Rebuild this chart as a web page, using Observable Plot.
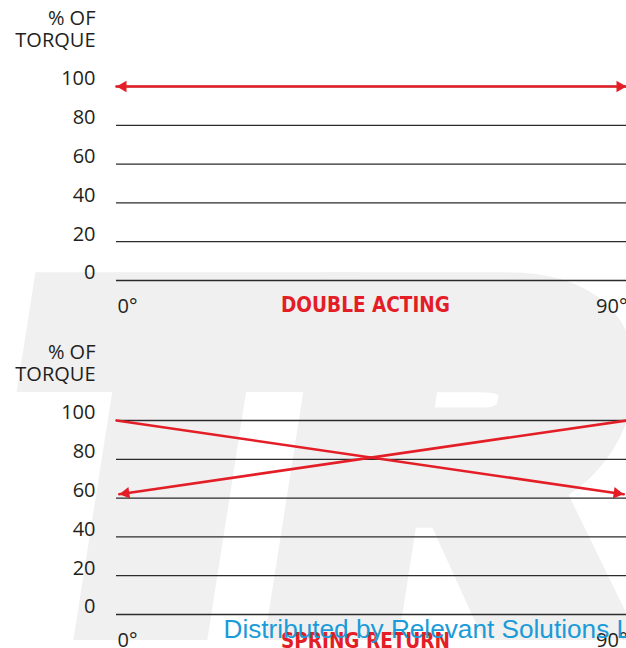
<!DOCTYPE html>
<html>
<head>
<meta charset="utf-8">
<script src="https://cdn.jsdelivr.net/npm/d3@7"></script>
<script src="https://cdn.jsdelivr.net/npm/@observablehq/plot@0.6"></script>
<style>
  html, body { margin: 0; padding: 0; background: #ffffff; overflow: hidden; }
  #wrap { position: relative; width: 626px; height: 648px; overflow: hidden; }
  #wm { position: absolute; left: 0; top: 0; }
  .panel { position: absolute; left: 0; }
</style>
</head>
<body>
<div id="wrap">
  <svg id="wm" width="626" height="648"></svg>
  <div class="panel" id="p1" style="top:0px"></div>
  <div class="panel" id="p2" style="top:334px"></div>
</div>
<script>
// ---------- data ----------
const yTicks = [0, 20, 40, 60, 80, 100];
const xTicks = [0, 90];
const xTickLabels = ["0°", "90°"];
const axisTitleLines = ["% OF", "TORQUE"];
const panelTitles = ["DOUBLE ACTING", "SPRING RETURN"];
const doubleActingAngle = [0, 90];
const doubleActingTorque = [100, 100];
const springAAngle = [0, 89.5];
const springATorque = [100, 62];
const springBAngle = [90, 0.5];
const springBTorque = [100, 62];
const creditText = "Distributed by Relevant Solutions LLC";
const watermarkText = "TR";

// ---------- layout / style ----------
const W = 626, H = 334, ML = 116, MR = 0, MT = 86, MB = 54;
const RED = "#e41e26", INK = "#231f20", GRID = "#2b2b2b", BLUE = "#1b9bd7";
const HEAD_R = 4.3;
const TITLE_LEN = 169;

const rows = (a, t) => a.map((v, i) => ({angle: v, torque: t[i]}));

function headMark(from, to) {
  const iw = W - ML - MR, ih = H - MT - MB;
  const dxp = (to.angle - from.angle) / (xTicks[1] - xTicks[0]) * iw;
  const dyp = -(to.torque - from.torque) / (yTicks[yTicks.length - 1] - yTicks[0]) * ih;
  const phi = Math.atan2(dyp, dxp);
  const size = Math.PI * HEAD_R * HEAD_R;
  const tip = 2 * Math.sqrt(size / (3 * Math.sqrt(3)));
  return Plot.dot([to], {
    x: "angle", y: "torque", symbol: "triangle", r: HEAD_R,
    fill: RED, stroke: null,
    rotate: phi * 180 / Math.PI + 90,
    dx: -tip * Math.cos(phi), dy: -tip * Math.sin(phi)
  });
}

function panel({title, series, titleDy}) {
  const xMid = (xTicks[0] + xTicks[1]) / 2;
  const marks = [
    Plot.ruleY(yTicks, {stroke: GRID, strokeWidth: 1.3}),
    Plot.axisY(yTicks, {tickSize: 0, tickPadding: 21, dy: -7.5, label: null}),
    Plot.text([axisTitleLines[0]], {frameAnchor: "top-left", lineAnchor: "middle", textAnchor: "end", dx: -21, dy: -68}),
    Plot.text([axisTitleLines[1]], {frameAnchor: "top-left", lineAnchor: "middle", textAnchor: "end", dx: -21, dy: -45.5}),
    Plot.text([0], {x: () => xTicks[0], y: () => yTicks[0], text: () => xTickLabels[0], textAnchor: "start", dx: 1, dy: 25.6}),
    Plot.text([1], {x: () => xTicks[1], y: () => yTicks[0], text: () => xTickLabels[1], textAnchor: "end", dx: 1, dy: 25.6})
  ];
  for (const s of series) {
    marks.push(Plot.line(s.rows, {x: "angle", y: "torque", stroke: RED, strokeWidth: 2.6}));
    for (const h of s.heads) {
      const to = s.rows[h];
      const from = s.rows[h === 0 ? 1 : 0];
      marks.push(headMark(from, to));
    }
  }
  marks.push(Plot.text([title], {
    x: () => xMid, y: () => yTicks[0], text: d => d,
    fill: RED, fontWeight: "bold", fontSize: 22,
    fontFamily: "'Liberation Sans Narrow', 'DejaVu Sans Condensed', 'Liberation Sans', sans-serif",
    dx: -6, dy: titleDy
  }));
  return marks;
}

function makePlot(marks) {
  const svg = Plot.plot({
    width: W, height: H,
    marginLeft: ML, marginRight: MR, marginTop: MT, marginBottom: MB,
    x: {domain: [xTicks[0], xTicks[1]], axis: null},
    y: {domain: [yTicks[0], yTicks[yTicks.length - 1]], axis: null},
    style: {fontFamily: "'Open Sans', sans-serif", fontSize: "20px", color: INK, background: "transparent", overflow: "visible"},
    marks
  });
  d3.select(svg).selectAll("text")
    .filter(function () { return panelTitles.includes(this.textContent); })
    .attr("textLength", TITLE_LEN).attr("lengthAdjust", "spacingAndGlyphs");
  return svg;
}

const p1 = makePlot(panel({
  title: panelTitles[0],
  titleDy: 24.7,
  series: [{rows: rows(doubleActingAngle, doubleActingTorque), heads: [0, 1]}]
}));

const p2marks = panel({
  title: panelTitles[1],
  titleDy: 26.7,
  series: [
    {rows: rows(springAAngle, springATorque), heads: [1]},
    {rows: rows(springBAngle, springBTorque), heads: [1]}
  ]
});
p2marks.push(Plot.text([creditText], {
  frameAnchor: "bottom-left", lineAnchor: "middle", textAnchor: "start", dx: 107, dy: 14.9,
  fill: BLUE, fontSize: 26.2, fontFamily: "'Liberation Sans', Arial, sans-serif"
}));
const p2 = makePlot(p2marks);

document.getElementById("p1").appendChild(p1);
document.getElementById("p2").appendChild(p2);

// ---------- background watermark ----------
const wm = d3.select("#wm");
wm.append("g")
  .attr("transform", "translate(0,640) skewX(-8.9) translate(0,-640)")
  .append("text")
  .attr("x", 9).attr("y", 604)
  .attr("font-family", "'Liberation Sans', Arial, sans-serif")
  .attr("font-weight", "bold")
  .attr("font-size", 430)
  .attr("letter-spacing", 0)
  .attr("fill", "#f0f0f0")
  .attr("stroke", "#f0f0f0")
  .attr("stroke-width", 72)
  .attr("stroke-linejoin", "miter")
  .attr("paint-order", "stroke")
  .text(watermarkText);
</script>
</body>
</html>
